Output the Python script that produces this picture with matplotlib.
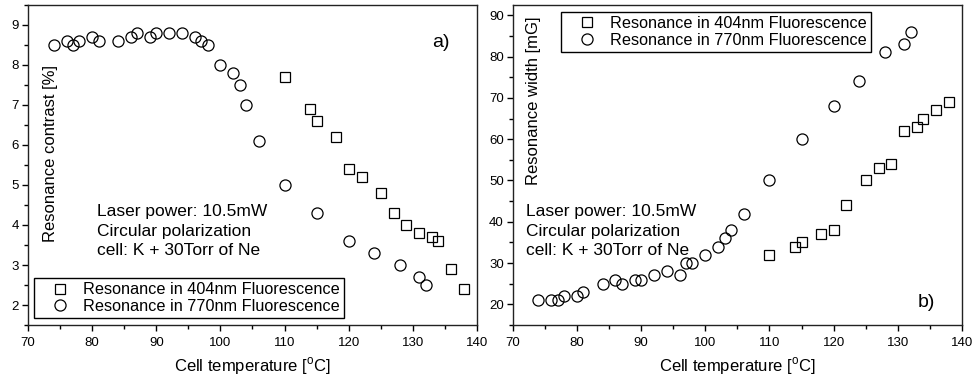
import matplotlib
matplotlib.use('Agg')
import matplotlib.pyplot as plt
from matplotlib.ticker import MultipleLocator

plt.rcParams['font.family'] = ['Liberation Sans', 'DejaVu Sans']
plt.rcParams['mathtext.fontset'] = 'custom'
plt.rcParams['mathtext.rm'] = 'Liberation Sans'

# a) resonance contrast [%]
c770_T = [74, 76, 77, 78, 80, 81, 84, 86, 87, 89, 90, 92, 94, 96, 97, 98,
          100, 102, 103, 104, 106, 110, 115, 120, 124, 128, 131, 132]
c770_val = [8.5, 8.6, 8.5, 8.6, 8.7, 8.6, 8.6, 8.7, 8.8, 8.7, 8.8, 8.8, 8.8, 8.7, 8.6, 8.5,
            8.0, 7.8, 7.5, 7.0, 6.1, 5.0, 4.3, 3.6, 3.3, 3.0, 2.7, 2.5]
c404_T = [110, 114, 115, 118, 120, 122, 125, 127, 129, 131, 133, 134, 136, 138]
c404_val = [7.7, 6.9, 6.6, 6.2, 5.4, 5.2, 4.8, 4.3, 4.0, 3.8, 3.7, 3.6, 2.9, 2.4]

# b) resonance width [mG]
w770_T = c770_T
w770_val = [21, 21, 21, 22, 22, 23, 25, 26, 25, 26, 26, 27, 28, 27, 30, 30,
            32, 34, 36, 38, 42, 50, 60, 68, 74, 81, 83, 86]
w404_T = [110, 114, 115, 118, 120, 122, 125, 127, 129, 131, 133, 134, 136, 138]
w404_val = [32, 34, 35, 37, 38, 44, 50, 53, 54, 62, 63, 65, 67, 69]

lbl404 = 'Resonance in 404nm Fluorescence'
lbl770 = 'Resonance in 770nm Fluorescence'
note = 'Laser power: 10.5mW\nCircular polarization\ncell: K + 30Torr of Ne'
xlab = r'Cell temperature [$^{\mathrm{o}}$C]'

fig = plt.figure(figsize=(9.73, 3.78), dpi=100)
ax1 = fig.add_axes([0.0288, 0.1402, 0.4614, 0.8466])
ax2 = fig.add_axes([0.5270, 0.1402, 0.4617, 0.8466])

mk = dict(linestyle='none', markerfacecolor='none', markeredgecolor='black', markeredgewidth=0.9)
legkw = dict(fontsize=11.7, fancybox=False, edgecolor='black', framealpha=1, borderaxespad=0,
             handlelength=2.7, handletextpad=0.06, borderpad=0.25, labelspacing=0.1)

for ax, T4, v4, T7, v7 in [(ax1, c404_T, c404_val, c770_T, c770_val),
                           (ax2, w404_T, w404_val, w770_T, w770_val)]:
    ax.plot(T4, v4, marker='s', markersize=7.5, label=lbl404, **mk)
    ax.plot(T7, v7, marker='o', markersize=8, label=lbl770, **mk)
    ax.set_xlim(70, 140)
    ax.xaxis.set_major_locator(MultipleLocator(10))
    ax.xaxis.set_minor_locator(MultipleLocator(5))
    ax.tick_params(which='major', direction='out', length=4, width=1, labelsize=9.5, pad=2.5)
    ax.tick_params(axis='x', which='major', pad=4.5)
    ax.tick_params(which='minor', direction='out', length=3, width=1)
    for s in ax.spines.values():
        s.set_linewidth(1.0)
        s.set_color('#222222')
    ax.set_xlabel(xlab, fontsize=12, labelpad=5)
    ax.text(0.154 if ax is ax1 else 0.029, 0.378, note, transform=ax.transAxes,
            fontsize=12.5, va='top', ha='left', linespacing=1.38)

ax1.set_ylim(1.5, 9.5)
ax1.yaxis.set_major_locator(MultipleLocator(1))
ax1.yaxis.set_minor_locator(MultipleLocator(0.5))
ax1.text(0.05, 0.535, 'Resonance contrast [%]', transform=ax1.transAxes,
         rotation=90, fontsize=12, ha='center', va='center')
ax1.text(0.92, 0.884, 'a)', transform=ax1.transAxes, fontsize=14, ha='center', va='center')
leg1 = ax1.legend(loc='lower left', bbox_to_anchor=(0.013, 0.022), **legkw)
leg1.get_frame().set_linewidth(1.0)

ax2.set_ylim(15, 92.5)
ax2.yaxis.set_major_locator(MultipleLocator(10))
ax2.yaxis.set_minor_locator(MultipleLocator(5))
ax2.text(0.047, 0.70, 'Resonance width [mG]', transform=ax2.transAxes,
         rotation=90, fontsize=12, ha='center', va='center')
ax2.text(0.92, 0.069, 'b)', transform=ax2.transAxes, fontsize=14, ha='center', va='center')
leg2 = ax2.legend(loc='upper left', bbox_to_anchor=(0.1076, 0.978), **legkw)
leg2.get_frame().set_linewidth(1.0)

fig.savefig('out.png', dpi=100)
